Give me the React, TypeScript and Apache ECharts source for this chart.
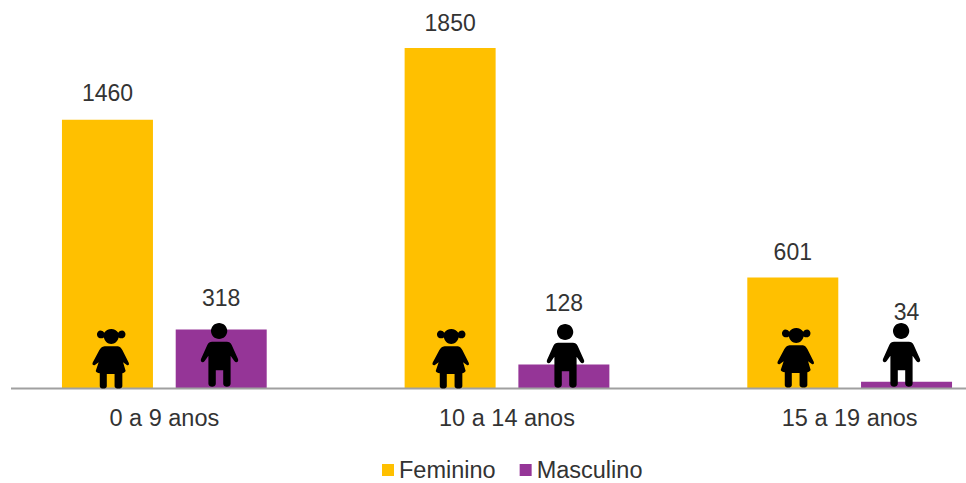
import React, { useEffect, useRef } from "react";
import * as echarts from "echarts";

const categories = ["0 a 9 anos", "10 a 14 anos", "15 a 19 anos"];
const feminino = [1460, 1850, 601];
const masculino = [318, 128, 34];
const femininoLabelGap = [15, 14, 14];
const masculinoLabelGap = [20, 50, 58];

const GIRL = "M52 0C60 0 67 4 71 10C75 4 83 2 88 7C93 13 90 22 83 24C78 25 75 24 72 22C69 32 62 39 52 39C42 39 35 32 32 22C29 24 26 25 21 24C14 22 11 13 16 7C21 2 29 4 33 10C37 4 44 0 52 0ZM34 45L70 45C76 46 79 50 82 55L99 88C101 92 100 96 95 95L84 87L91 110C88 114 86 115 82 116L82 150C82 158 61 158 61 150L61 118L40 118L40 150C40 158 21 158 21 150L21 116C15 115 12 114 10 110L18 87L7 95C2 96 0 92 2 88L20 55C23 50 27 46 34 45Z";
const BOY = "M49 0C61 0 71 9 71 20C71 31 61 40 49 40C37 40 27 31 27 20C27 9 37 0 49 0ZM30 47L70 47C76 47 80 50 83 55L100 90C103 97 95 101 90 95L80 82L80 152C80 162 60 162 60 152L60 118L40 118L40 152C40 162 20 162 20 152L20 82L10 95C5 101 -3 97 0 90L17 55C20 50 24 47 30 47Z";
echarts.graphic.registerShape("girl", echarts.graphic.extendPath(GIRL as any, {}) as any);
echarts.graphic.registerShape("boy", echarts.graphic.extendPath(BOY as any, {}) as any);

const shift = 7;
const girlSpots = [[92, 329], [432, 329], [777, 328]];
const boySpots = [[201, 323], [547, 324], [883, 323]];

export default function App() {
  const ref = useRef<HTMLDivElement>(null);
  useEffect(() => {
    document.body.style.margin = "0";
    const chart = echarts.init(ref.current!, undefined, { renderer: "svg" });
    const font = "'Liberation Sans', Arial, sans-serif";
    const label = { show: true, position: "top" as const, color: "#333333", fontSize: 23, fontFamily: font };
    chart.setOption({
      animation: false,
      backgroundColor: "#ffffff",
      legend: {
        top: 458, left: 382 + shift, padding: 0, itemWidth: 12, itemHeight: 12, itemGap: 24,
        icon: "rect",
        textStyle: { fontSize: 23.5, color: "#333333", fontFamily: font },
        data: ["Feminino", "Masculino"],
      },
      grid: { left: 0, width: 1028, top: 48, height: 340 },
      xAxis: {
        type: "category", data: categories,
        axisTick: { show: false },
        axisLine: { show: false },
        axisLabel: { fontSize: 23.5, color: "#333333", fontFamily: font, margin: 18 },
      },
      yAxis: { type: "value", min: 0, max: 1850, show: false, splitLine: { show: false } },
      series: [
        {
          name: "Feminino", type: "bar", barWidth: 91, barGap: "25%", itemStyle: { color: "#FFC000" },
          data: feminino.map((value, i) => ({ value, label: { ...label, distance: femininoLabelGap[i] } })),
        },
        {
          name: "Masculino", type: "bar", barWidth: 91, itemStyle: { color: "#953597" },
          data: masculino.map((value, i) => ({ value, label: { ...label, distance: masculinoLabelGap[i] } })),
        },
      ],
      graphic: [
        { type: "line", shape: { x1: 11 + shift, y1: 388.5, x2: 966 + shift, y2: 388.5 }, style: { stroke: "#a0a0a0", lineWidth: 2 }, z: 10 },
        ...girlSpots.map(([x, y]) => ({ type: "girl", x: x + shift, y, scaleX: 0.37, scaleY: 0.382, style: { fill: "#000" }, z: 20, silent: true })),
        ...boySpots.map(([x, y]) => ({ type: "boy", x: x + shift, y, scaleX: 0.37, scaleY: 0.4, style: { fill: "#000" }, z: 20, silent: true })),
      ],
    });
    return () => chart.dispose();
  }, []);
  return (
    <div style={{ width: 966, height: 483, overflow: "hidden", position: "relative" }}>
      <div ref={ref} style={{ width: 1028, height: 483, position: "absolute", left: -shift, top: 0 }} />
    </div>
  );
}
